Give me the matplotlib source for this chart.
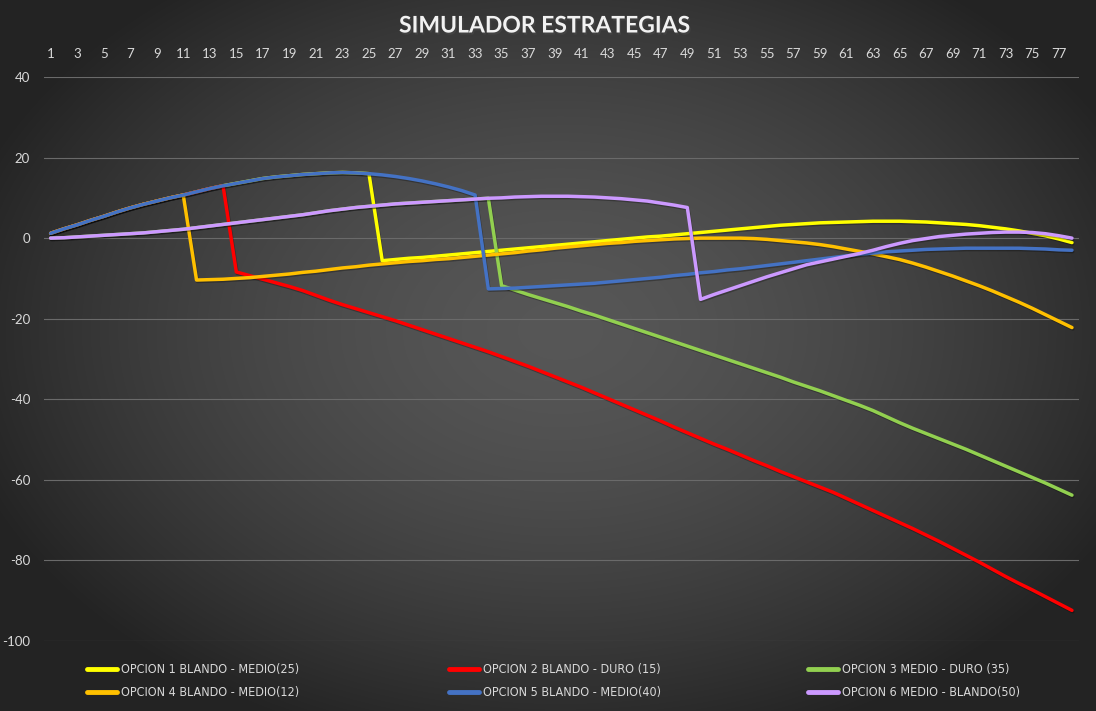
import numpy as np
import matplotlib
matplotlib.use("Agg")
import matplotlib.pyplot as plt
import matplotlib.patheffects as pe

plt.rcParams["axes.unicode_minus"] = False

# periodos 1..78
periodos = list(range(1, 79))

opcion1 = [1.2, 2.3, 3.3, 4.4, 5.4, 6.5, 7.5, 8.4, 9.2, 10.0, 10.7, 11.5, 12.3,
           13.0, 13.6, 14.2, 14.8, 15.2, 15.5, 15.8, 16.0, 16.2, 16.3, 16.2, 16.0, -5.6,
           -5.3, -5.0, -4.8, -4.5, -4.2, -3.9, -3.6, -3.3, -3.0, -2.7, -2.4, -2.1, -1.8,
           -1.5, -1.2, -0.9, -0.6, -0.3, 0.0, 0.3, 0.5, 0.8, 1.1, 1.4, 1.7, 2.0,
           2.3, 2.6, 2.9, 3.2, 3.4, 3.6, 3.8, 3.9, 4.0, 4.1, 4.2, 4.2, 4.2,
           4.1, 4.0, 3.8, 3.6, 3.4, 3.1, 2.7, 2.3, 1.8, 1.2, 0.6, -0.2, -1.1]

opcion2 = [1.2, 2.3, 3.3, 4.4, 5.4, 6.5, 7.5, 8.4, 9.2, 10.0, 10.7, 11.5, 12.3,
           13.0, -8.4, -9.3, -10.2, -11.1, -12.0, -13.0, -14.2, -15.4, -16.5, -17.5, -18.5, -19.5,
           -20.5, -21.6, -22.7, -23.8, -24.9, -26.0, -27.1, -28.2, -29.4, -30.6, -31.8, -33.1, -34.4,
           -35.7, -37.0, -38.4, -39.8, -41.2, -42.6, -44.0, -45.4, -46.9, -48.3, -49.7, -51.1, -52.4,
           -53.8, -55.2, -56.5, -57.9, -59.2, -60.5, -61.8, -63.1, -64.6, -66.1, -67.6, -69.1, -70.6,
           -72.1, -73.7, -75.3, -77.0, -78.7, -80.4, -82.2, -84.0, -85.7, -87.3, -89.0, -90.7, -92.4]

opcion3 = [0.0, 0.1, 0.3, 0.5, 0.7, 0.9, 1.1, 1.3, 1.6, 1.9, 2.2, 2.6, 3.0,
           3.4, 3.8, 4.2, 4.6, 5.0, 5.4, 5.8, 6.3, 6.8, 7.2, 7.6, 7.9, 8.2,
           8.5, 8.7, 8.9, 9.1, 9.3, 9.5, 9.7, 9.9, -11.8, -12.9, -14.0, -15.0, -16.0,
           -17.0, -18.1, -19.1, -20.2, -21.3, -22.4, -23.5, -24.6, -25.7, -26.8, -27.9, -29.0, -30.1,
           -31.2, -32.3, -33.4, -34.5, -35.7, -36.8, -37.9, -39.1, -40.3, -41.5, -42.8, -44.3, -45.8,
           -47.2, -48.5, -49.8, -51.1, -52.4, -53.8, -55.2, -56.6, -58.0, -59.4, -60.8, -62.3, -63.8]

opcion4 = [1.2, 2.3, 3.3, 4.4, 5.4, 6.5, 7.5, 8.4, 9.2, 10.0, 10.7, -10.4, -10.3,
           -10.2, -10.0, -9.8, -9.5, -9.2, -8.9, -8.5, -8.2, -7.8, -7.4, -7.1, -6.7, -6.4,
           -6.1, -5.8, -5.6, -5.3, -5.1, -4.8, -4.5, -4.2, -3.9, -3.6, -3.2, -2.9, -2.5,
           -2.2, -1.9, -1.6, -1.3, -1.1, -0.8, -0.6, -0.4, -0.2, -0.1, 0.0, 0.0, 0.0,
           0.0, -0.1, -0.3, -0.6, -0.9, -1.2, -1.6, -2.1, -2.7, -3.3, -3.9, -4.6, -5.3,
           -6.2, -7.2, -8.3, -9.4, -10.6, -11.8, -13.1, -14.5, -15.9, -17.4, -19.0, -20.6, -22.2]

opcion5 = [1.2, 2.3, 3.3, 4.4, 5.4, 6.5, 7.5, 8.4, 9.2, 10.0, 10.7, 11.5, 12.3,
           13.0, 13.6, 14.2, 14.8, 15.2, 15.5, 15.8, 16.0, 16.2, 16.3, 16.2, 16.0, 15.7,
           15.3, 14.8, 14.2, 13.5, 12.7, 11.8, 10.7, -12.6, -12.5, -12.4, -12.2, -12.0, -11.8,
           -11.6, -11.4, -11.2, -10.9, -10.6, -10.3, -10.0, -9.7, -9.3, -9.0, -8.6, -8.3, -7.9,
           -7.6, -7.2, -6.8, -6.4, -6.0, -5.6, -5.2, -4.8, -4.4, -4.0, -3.7, -3.4, -3.2,
           -3.0, -2.8, -2.7, -2.6, -2.5, -2.5, -2.5, -2.5, -2.5, -2.6, -2.7, -2.9, -3.0]

opcion6 = [0.0, 0.1, 0.3, 0.5, 0.7, 0.9, 1.1, 1.3, 1.6, 1.9, 2.2, 2.6, 3.0,
           3.4, 3.8, 4.2, 4.6, 5.0, 5.4, 5.8, 6.3, 6.8, 7.2, 7.6, 7.9, 8.2,
           8.5, 8.7, 8.9, 9.1, 9.3, 9.5, 9.7, 9.9, 10.0, 10.2, 10.3, 10.4, 10.4,
           10.4, 10.3, 10.2, 10.0, 9.8, 9.5, 9.2, 8.7, 8.2, 7.6, -15.2, -14.0, -12.9,
           -11.8, -10.7, -9.6, -8.6, -7.6, -6.6, -5.9, -5.2, -4.5, -3.8, -3.0, -2.1, -1.3,
           -0.6, -0.1, 0.4, 0.7, 1.0, 1.2, 1.4, 1.5, 1.5, 1.4, 1.1, 0.6, 0.0]

nombres = ["OPCION 1 BLANDO - MEDIO(25)", "OPCION 2 BLANDO - DURO (15)",
           "OPCION 3 MEDIO - DURO (35)", "OPCION 4 BLANDO - MEDIO(12)",
           "OPCION 5 BLANDO - MEDIO(40)", "OPCION 6 MEDIO - BLANDO(50)"]
colores = ["#FFFF00", "#FF0000", "#92D050", "#FFC000", "#4472C4", "#CC99FF"]
series = [opcion1, opcion2, opcion3, opcion4, opcion5, opcion6]

W, H = 1096, 711
fig = plt.figure(figsize=(W / 100, H / 100), dpi=100)

# fondo degradado radial tipo excel
bg = fig.add_axes([0, 0, 1, 1], zorder=-10)
yy, xx = np.mgrid[0:H, 0:W]
r = np.sqrt(((xx - 560) / 620.0) ** 2 + ((yy - 330) / 430.0) ** 2)
r = np.clip(r, 0, 1)
g = 0.34 - 0.20 * r ** 1.6
bg.imshow(np.dstack([g, g, g]), aspect="auto", extent=[0, 1, 0, 1])
bg.axis("off")

ax = fig.add_axes([44 / W, 1 - 641 / H, (1078.6 - 44) / W, (641 - 77) / H])
ax.patch.set_alpha(0)

shadow = [pe.SimpleLineShadow(offset=(0.6, -1.0), shadow_color="black", alpha=0.28),
          pe.Normal()]
handles = []
for k, (s, c, n) in enumerate(zip(series, colores, nombres)):
    ln, = ax.plot(periodos, s, color=c, lw=2.5, label=n, zorder=3 + k,
                  solid_joinstyle="round", solid_capstyle="round", path_effects=shadow)
    handles.append(ln)

ax.set_xlim(0.5, 78.5)
ax.set_ylim(-100, 40)
ax.set_yticks(range(-100, 41, 20))
ax.set_xticks(range(1, 78, 2))
ax.xaxis.tick_top()
ax.tick_params(axis="both", length=0, colors="#d9d9d9", labelsize=9.5)
ax.tick_params(axis="x", pad=12)
ax.tick_params(axis="y", pad=10)
for lab in ax.get_xticklabels() + ax.get_yticklabels():
    lab.set_family(["Lato", "DejaVu Sans"])
ax.grid(axis="y", color="#6a6a6a", lw=0.8, zorder=0)
ax.grid(axis="x", visible=False)
for sp in ax.spines.values():
    sp.set_visible(False)

fig.text(0.497, 1 - 26 / H, "SIMULADOR ESTRATEGIAS", ha="center", va="center",
         color="#f2f2f2", fontsize=16.5, fontweight="bold", family=["Lato", "DejaVu Sans"],
         path_effects=[pe.withSimplePatchShadow(offset=(1, -1.5), alpha=0.6)])

# leyenda: 3 columnas de 2 filas
xs = [76, 438, 797]
for j in range(3):
    hs = [handles[j], handles[j + 3]]
    leg = fig.legend(hs, [h.get_label() for h in hs], loc="upper left",
                     bbox_to_anchor=(xs[j] / W, 1 - 652 / H), frameon=False,
                     handlelength=2.4, handletextpad=0.3, labelspacing=0.8,
                     prop={"family": ["DejaVu Sans"], "stretch": "condensed", "size": 9})
    for t in leg.get_texts():
        t.set_color("#d9d9d9")
    for l in leg.get_lines():
        l.set_linewidth(3.5)
        l.set_path_effects([])

fig.savefig("out.png", dpi=100)
